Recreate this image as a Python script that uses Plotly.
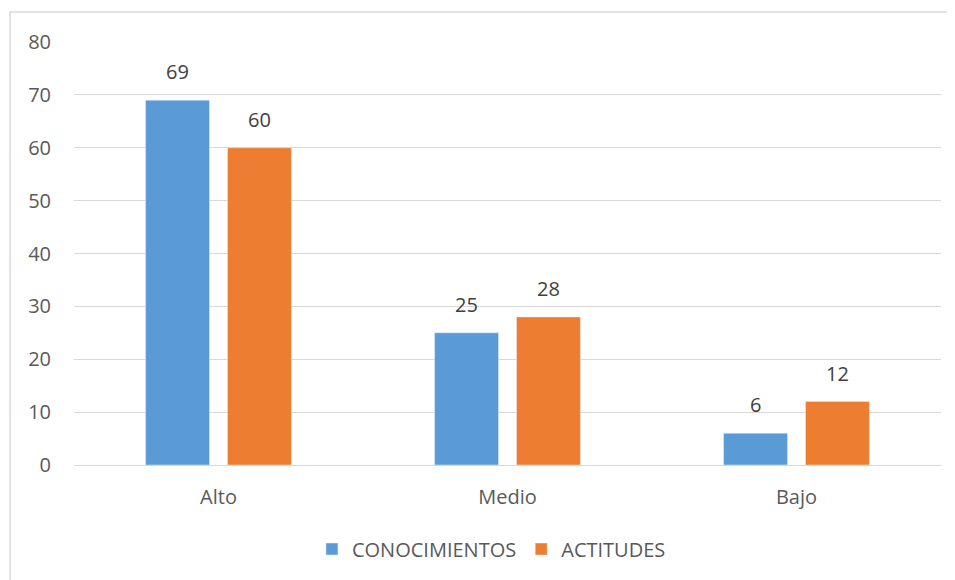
import plotly.graph_objects as go

categories = ["Alto", "Medio", "Bajo"]
conocimientos = [69, 25, 6]
actitudes = [60, 28, 12]
y_ticks = [0, 10, 20, 30, 40, 50, 60, 70, 80]

font_family = "Open Sans, Liberation Sans, sans-serif"
txt_color = "#595959"
lbl_color = "#404040"
FS = 20

fig = go.Figure()
fig.add_trace(go.Bar(name="CONOCIMIENTOS", x=categories, y=conocimientos,
                     marker_color="#5B9BD5"))
fig.add_trace(go.Bar(name="ACTITUDES", x=categories, y=actitudes,
                     marker_color="#ED7D31"))

annotations = []
for series, shift in ((conocimientos, -41), (actitudes, 41)):
    for c, v in zip(categories, series):
        annotations.append(dict(x=c, y=v, xref="x", yref="y", text=str(v),
                                showarrow=False, xshift=shift, yshift=13,
                                yanchor="bottom",
                                font=dict(size=FS, color=lbl_color, family=font_family)))

fig.update_layout(
    width=947, height=572,
    margin=dict(l=66, r=14, t=34, b=115),
    paper_bgcolor="white", plot_bgcolor="white",
    barmode="group", bargap=0.433, bargroupgap=0.22,
    font=dict(family=font_family, size=FS, color=txt_color),
    showlegend=True,
    legend=dict(orientation="h", x=0.4815, xanchor="center", y=-0.1986, yanchor="middle",
                font=dict(size=FS, color=txt_color), traceorder="normal"),
    xaxis=dict(showgrid=False, showline=False, ticks="", ticklabelstandoff=18,
               tickfont=dict(size=FS, color=txt_color)),
    yaxis=dict(range=[0, 80], tickvals=y_ticks, showgrid=True, gridcolor="#D9D9D9", gridwidth=1,
               zeroline=True, zerolinecolor="#D9D9D9", zerolinewidth=1, showline=False,
               ticks="", ticklabelstandoff=22, tickfont=dict(size=FS, color=txt_color)),
    annotations=annotations,
    shapes=[dict(type="rect", xref="paper", yref="paper",
                 x0=-0.0738, x1=1.2, y0=-0.5, y1=1.071,
                 line=dict(color="#D9D9D9", width=1.5), fillcolor="rgba(0,0,0,0)", layer="below")],
)

fig.write_html("out.html")
